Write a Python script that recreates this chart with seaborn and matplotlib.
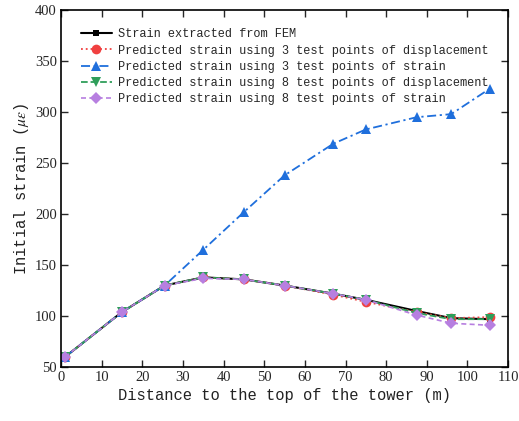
import numpy as np
import pandas as pd
import seaborn as sns
import matplotlib.pyplot as plt

# distance to the top of the tower (m)
distance = [1, 15, 25.5, 35, 45, 55, 67, 75, 87.5, 96, 105.5]

# initial strain (micro-strain)
strain_fem = [60, 104, 130, 138, 136, 130, 122, 116, 105, 98, 97]
strain_3disp = [60, 104, 130, 138, 136, 130, 121, 114, 104, 98, 99]
strain_3strain = [60, 104, 130, 165, 202, 238, 269, 283, 295, 298, 323]
strain_8disp = [60, 104, 130, 138, 136, 130, 122, 116, 103, 97, 97]
strain_8strain = [60, 104, 130, 137, 136, 130, 122, 116, 101, 93, 91]

labels = [
    "Strain extracted from FEM",
    "Predicted strain using 3 test points of displacement",
    "Predicted strain using 3 test points of strain",
    "Predicted strain using 8 test points of displacement",
    "Predicted strain using 8 test points of strain",
]

sns.set_style("white")
plt.rcParams["font.family"] = ["Liberation Mono", "DejaVu Sans"]
plt.rcParams["mathtext.fontset"] = "stix"

fig = plt.figure(figsize=(5.19, 4.21), dpi=100)
ax = fig.add_axes([0.1175, 0.128, 0.8615, 0.848])

series = [
    (strain_fem, "black", "-", "s", 5, 1.5),
    (strain_3disp, "#f04040", ":", "o", 7, 1.3),
    (strain_3strain, "#1f6fdc", (0, (5, 2, 1.2, 2)), "^", 7, 1.3),
    (strain_8disp, "#2f9e5a", "--", "v", 7, 1.3),
    (strain_8strain, "#b77fe0", (0, (3, 2)), "D", 6, 1.2),
]

for (vals, color, ls, marker, ms, lw), label in zip(series, labels):
    df = pd.DataFrame({"x": distance, "y": vals})
    sns.lineplot(data=df, x="x", y="y", ax=ax, color=color, linestyle=ls,
                 marker=marker, markersize=ms, markeredgewidth=0,
                 linewidth=lw, label=label)

ax.set_xlim(0, 110)
ax.set_ylim(50, 400)
ax.set_xticks(np.arange(0, 111, 10))
ax.set_yticks(np.arange(50, 401, 50))
for t in ax.get_xticklabels() + ax.get_yticklabels():
    t.set_fontfamily("Liberation Serif")
    t.set_fontsize(10.5)

ax.tick_params(direction="in", length=5, width=1, top=True, right=True,
               bottom=True, left=True, labeltop=False, labelright=False, pad=3)
for sp in ax.spines.values():
    sp.set_linewidth(1.2)
    sp.set_color("black")

ax.set_xlabel("Distance to the top of the tower (m)", fontsize=11.2,
              labelpad=3, color="#222222")
ax.set_ylabel(r"Initial strain ($\mu\varepsilon$)", fontsize=11.2,
              labelpad=3, color="#222222")

ax.legend(loc="upper left", frameon=False, fontsize=8.6, handlelength=2.6,
          handletextpad=0.55, labelspacing=0.35, borderaxespad=0.3,
          bbox_to_anchor=(0.025, 0.972))

fig.savefig("out.png", dpi=100)
